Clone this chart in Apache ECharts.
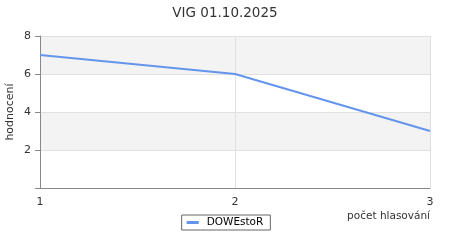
<!DOCTYPE html>
<html><head><meta charset="utf-8">
<script src="https://cdn.jsdelivr.net/npm/echarts@6/dist/echarts.min.js"></script>
<style>html,body{margin:0;padding:0;background:#fff}#c{width:450px;height:250px}</style>
</head><body><div id="c"></div>
<script>
const title = 'VIG 01.10.2025';
const seriesName = 'DOWEstoR';
const xValues = [1, 2, 3];
const yValues = [7, 6, 3];
const yAxisTitle = 'hodnocení';
const xAxisTitle = 'počet hlasování';

const chart = echarts.init(document.getElementById('c'));
const font = 'DejaVu Sans';
chart.setOption({
  animation: false,
  title: { text: title, left: 'center', top: 1, textStyle: { fontFamily: font, fontSize: 13.5, fontWeight: 'normal', color: '#333' } },
  grid: { left: 40, right: 20, top: 36, bottom: 62, containLabel: false, outerBoundsMode: 'none' },
  legend: {
    bottom: 20, left: 'center',
    data: [seriesName],
    borderColor: '#666', borderWidth: 1, borderRadius: 0,
    padding: [2, 7, 2, 5],
    itemWidth: 12, itemHeight: 3, itemGap: 5,
    icon: 'rect',
    textStyle: { fontFamily: font, fontSize: 10.5, color: '#000', padding: [0, 0, 0, 3] }
  },
  xAxis: {
    type: 'value', min: 1, max: 3, interval: 1,
    axisLine: { show: true, lineStyle: { color: '#888' } },
    axisTick: { show: false },
    axisLabel: { fontFamily: font, fontSize: 11, color: '#333', margin: 9 },
    splitLine: { show: true, lineStyle: { color: '#e0e0e0' } }
  },
  yAxis: {
    type: 'value', min: 0, max: 8, interval: 2,
    axisLine: { show: true, lineStyle: { color: '#888' } },
    axisTick: { show: true, length: 5, lineStyle: { color: '#888' } },
    axisLabel: { fontFamily: font, fontSize: 11, color: '#333', margin: 9, formatter: v => v === 0 ? '' : String(v) },
    splitLine: { show: true, lineStyle: { color: '#e0e0e0' } },
    splitArea: { show: true, areaStyle: { color: ['#ffffff', '#f3f3f3'] } }
  },
  graphic: [{
    type: 'text', right: 20, top: 211,
    style: { text: xAxisTitle, font: '10.5px "DejaVu Sans"', fill: '#333' }
  }, {
    type: 'text', x: 10, y: 112, rotation: Math.PI / 2,
    style: { text: yAxisTitle, font: '11px "DejaVu Sans"', fill: '#333', align: 'center', verticalAlign: 'middle' }
  }],
  series: [{
    name: seriesName, type: 'line',
    data: xValues.map((x, i) => [x, yValues[i]]),
    symbol: 'none', showSymbol: false,
    lineStyle: { color: '#6495ed', width: 2 },
    itemStyle: { color: '#6495ed' }
  }]
});
</script></body></html>
